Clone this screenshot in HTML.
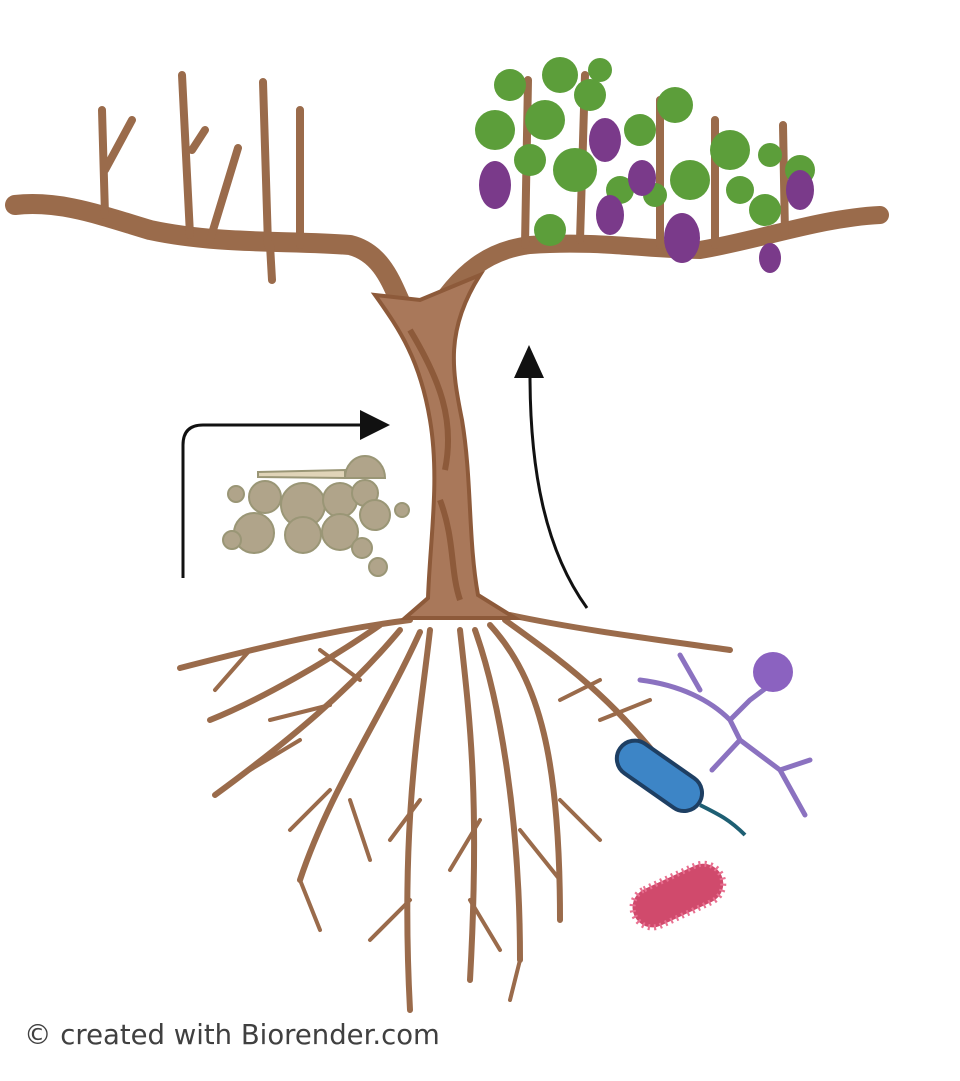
<!DOCTYPE html>
<html><head><style>
html,body{margin:0;padding:0;background:#fff;width:960px;height:1081px;overflow:hidden}
svg{position:absolute;left:0;top:0}
.t{position:absolute;left:24px;top:1019px;font-family:"DejaVu Sans","Liberation Sans",sans-serif;font-size:27.5px;color:#404040}
</style></head><body>
<svg width="960" height="1081" viewBox="0 0 960 1081">
<g fill="none" stroke="#9a6b4b" stroke-linecap="round" stroke-linejoin="round">
<path d="M15,205 C60,200 100,215 150,230 C220,245 290,240 350,245 C390,255 395,300 410,320" stroke-width="20"/>
<path d="M105,215 L102,110 M105,170 L132,120 M190,235 L182,75 M192,150 L205,130 M210,240 L238,148 M268,245 L263,82 M270,245 L272,280 M300,245 L300,110" stroke-width="8"/>
<path d="M430,320 C460,270 490,250 530,245 C600,240 650,250 700,250 C760,240 820,218 880,215" stroke-width="18"/>
<path d="M525,245 L528,80 M580,240 L585,75 M660,245 L660,100 M715,245 L715,120 M785,235 L783,125" stroke-width="8"/>
<g stroke-width="6">
<path d="M410,620 C330,630 250,650 180,668 M380,625 C330,660 260,700 210,720 M400,630 C350,690 290,740 215,795 M420,632 C380,720 330,790 300,880 M430,630 C420,720 400,820 410,1010 M460,630 C470,720 480,800 470,980 M475,630 C500,700 520,820 520,960 M490,625 C540,680 560,760 560,920 M505,620 C560,660 620,700 690,800 M510,615 C580,630 660,640 730,650"/>
</g>
<g stroke-width="4">
<path d="M250,650 L215,690 M330,705 L270,720 M300,740 L250,770 M330,790 L290,830 M350,800 L370,860 M420,800 L390,840 M410,900 L370,940 M480,820 L450,870 M470,900 L500,950 M520,830 L560,880 M560,800 L600,840 M600,720 L650,700 M640,760 L680,790 M600,680 L560,700 M360,680 L320,650 M300,880 L320,930 M520,960 L510,1000"/>
</g>
</g>
<path d="M375,295 C400,330 420,360 430,420 C440,480 430,540 428,598 L405,618 L515,618 L478,595 C468,540 472,480 462,420 C452,370 445,330 480,275 L420,300 Z" fill="#a9785a" stroke="#8d5a3a" stroke-width="4"/>
<path d="M410,330 C440,380 455,420 445,470 M440,500 C455,540 450,570 460,600" stroke="#8d5a3a" stroke-width="6" fill="none"/>
<g fill="#5c9e3a">
<circle cx="495" cy="130" r="20"/><circle cx="510" cy="85" r="16"/><circle cx="560" cy="75" r="18"/><circle cx="590" cy="95" r="16"/>
<circle cx="545" cy="120" r="20"/><circle cx="575" cy="170" r="22"/><circle cx="550" cy="230" r="16"/><circle cx="640" cy="130" r="16"/>
<circle cx="675" cy="105" r="18"/><circle cx="690" cy="180" r="20"/><circle cx="730" cy="150" r="20"/><circle cx="765" cy="210" r="16"/><circle cx="800" cy="170" r="15"/><circle cx="620" cy="190" r="14"/>
<circle cx="530" cy="160" r="16"/><circle cx="600" cy="70" r="12"/><circle cx="740" cy="190" r="14"/><circle cx="770" cy="155" r="12"/><circle cx="655" cy="195" r="12"/>
</g>
<g fill="#7a3a8a">
<ellipse cx="495" cy="185" rx="16" ry="24"/><ellipse cx="605" cy="140" rx="16" ry="22"/><ellipse cx="610" cy="215" rx="14" ry="20"/>
<ellipse cx="642" cy="178" rx="14" ry="18"/><ellipse cx="682" cy="238" rx="18" ry="25"/><ellipse cx="770" cy="258" rx="11" ry="15"/><ellipse cx="800" cy="190" rx="14" ry="20"/>
</g>
<path d="M183,578 L183,445 Q183,425 203,425 L362,425" stroke="#111" stroke-width="3" fill="none"/>
<path d="M360,410 L390,425 L360,440 Z" fill="#111"/>
<path d="M587,608 C545,550 530,470 530,375" stroke="#111" stroke-width="3" fill="none"/>
<path d="M514,378 L529,345 L544,378 Z" fill="#111"/>
<g fill="#b0a48a" stroke="#9a9676" stroke-width="2">
<path d="M258,472 L345,470 L345,478 L258,477 Z" fill="#e0d4b8"/>
<path d="M345,478 A20,22 0 0 1 385,478 Z"/>
<circle cx="236" cy="494" r="8"/><circle cx="265" cy="497" r="16"/><circle cx="303" cy="505" r="22"/><circle cx="340" cy="500" r="17"/><circle cx="365" cy="493" r="13"/>
<circle cx="254" cy="533" r="20"/><circle cx="232" cy="540" r="9"/><circle cx="303" cy="535" r="18"/><circle cx="340" cy="532" r="18"/><circle cx="375" cy="515" r="15"/><circle cx="402" cy="510" r="7"/><circle cx="362" cy="548" r="10"/><circle cx="378" cy="567" r="9"/>
</g>
<g stroke="#8b72c0" stroke-width="5" fill="none" stroke-linecap="round">
<path d="M640,680 C680,685 710,700 730,720 M730,720 L750,700 L770,685 M730,720 L740,740 L712,770 M740,740 L780,770 L810,760 M780,770 L805,815 M680,655 L700,690"/>
</g>
<circle cx="773" cy="672" r="20" fill="#8b62c0"/>
<g transform="rotate(35 660 775)">
<rect x="612" y="758" width="96" height="36" rx="18" fill="#3d85c6" stroke="#1e3f63" stroke-width="4"/>
</g>
<path d="M700,805 C720,815 730,820 745,835" stroke="#1e5f73" stroke-width="4" fill="none"/>
<g transform="rotate(-25 677 896)">
<rect x="630" y="876" width="96" height="40" rx="20" fill="#d04a6c" stroke="#e87090" stroke-width="6" stroke-dasharray="2 4"/>
</g>
</svg>
<div class="t">© created with Biorender.com</div>
</body></html>
